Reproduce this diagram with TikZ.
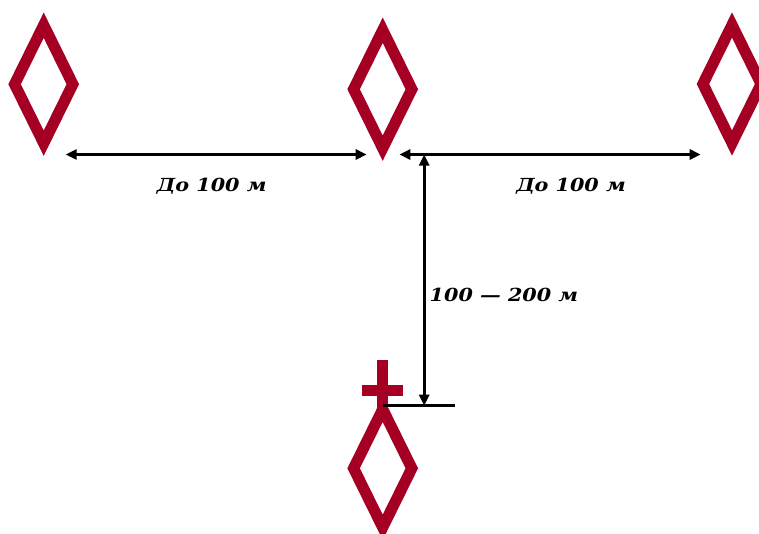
\documentclass[tikz,border=0pt]{standalone}
\usepackage{fontspec}
\setmainfont{DejaVu Serif}
\newfontfamily\lblfont[FakeStretch=1.15]{DejaVu Serif}
\usetikzlibrary{shapes.geometric,arrows.meta}
\definecolor{buoyred}{RGB}{165,0,35}
\tikzset{
  buoy/.style={shape=diamond,draw=buoyred,line width=11.2pt,miter limit=10,
    minimum width=58.2pt,minimum height=118pt,inner sep=0pt,outer sep=0pt},
  tipx/.tip={Triangle[length=11pt,width=10pt]},
  dim/.style={line width=2.6pt,tipx-tipx},
  lbl/.style={font=\lblfont\fontsize{18}{20}\selectfont\bfseries\itshape,inner sep=0pt}
}
\begin{document}
\begin{tikzpicture}[x=1pt,y=-1pt]
\useasboundingbox (0,0) rectangle (759,533);
\clip (0,0) rectangle (759,533);
\node[buoy] (d1) at (43.7,84.2) {};
\node[buoy] (d2) at (382.7,89.2) {};
\node[buoy] (d3) at (732,84) {};
\node[buoy] (d4) at (382.7,468.3) {};
% cross on top of the bottom buoy
\fill[buoyred] (377.4,360) rectangle (388.1,412);
\fill[buoyred] (362.3,385.3) rectangle (403.3,396);
% dimension points
\coordinate (a1) at (65.7,154.5);
\coordinate (a2) at (366.7,154.5);
\coordinate (b1) at (399.3,154.5);
\coordinate (b2) at (700.7,154.5);
\coordinate (v1) at (424.2,154.5);
\coordinate (v2) at (424.2,405.7);
\coordinate (t1) at (382.7,405.7);
\coordinate (t2) at (455,405.7);
\draw[dim] (a1) -- (a2);
\draw[dim] (b1) -- (b2);
\draw[dim] (v1) -- (v2);
\draw[line width=2.6pt] (t1) -- (t2);
\node[lbl] (l1) at (211.7,186.7) {До 100 м};
\node[lbl] (l2) at (571,186.7) {До 100 м};
\node[lbl,anchor=west] (l3) at (429.5,295) {100 — 200 м};
\end{tikzpicture}
\end{document}
